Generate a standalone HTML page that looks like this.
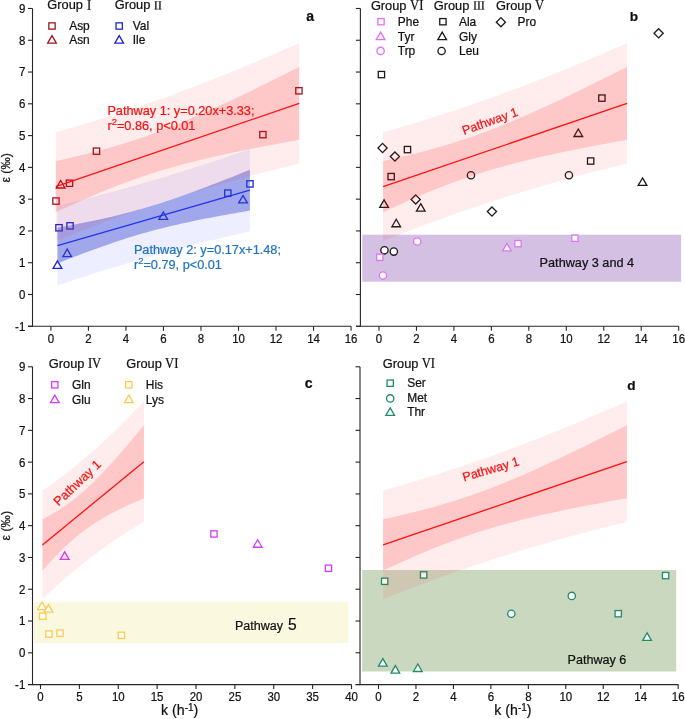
<!DOCTYPE html><html><head><meta charset="utf-8"><style>html,body{margin:0;padding:0;background:#fff;}svg{display:block;will-change:transform;}text{font-family:"Liberation Sans", sans-serif;stroke-width:0.22px;}</style></head><body>
<svg width="685" height="719" viewBox="0 0 685 719">
<rect width="685" height="719" fill="#fff"/>
<rect x="52.82" y="197.92" width="6.30" height="6.30" fill="#fff" stroke="#a0141e" stroke-width="1.3"/>
<rect x="66.32" y="180.12" width="6.30" height="6.30" fill="#fff" stroke="#a0141e" stroke-width="1.3"/>
<rect x="93.34" y="148.02" width="6.30" height="6.30" fill="#fff" stroke="#a0141e" stroke-width="1.3"/>
<rect x="259.74" y="131.50" width="6.30" height="6.30" fill="#fff" stroke="#a0141e" stroke-width="1.3"/>
<rect x="295.76" y="87.64" width="6.30" height="6.30" fill="#fff" stroke="#a0141e" stroke-width="1.3"/>
<path d="M60.66 180.49 L65.01 187.99 L56.31 187.99 Z" fill="#fff" stroke="#a0141e" stroke-width="1.3" stroke-linejoin="miter"/>
<rect x="55.82" y="224.61" width="6.30" height="6.30" fill="#fff" stroke="#1c24d0" stroke-width="1.3"/>
<rect x="66.89" y="222.71" width="6.30" height="6.30" fill="#fff" stroke="#1c24d0" stroke-width="1.3"/>
<rect x="224.66" y="189.97" width="6.30" height="6.30" fill="#fff" stroke="#1c24d0" stroke-width="1.3"/>
<rect x="246.79" y="180.76" width="6.30" height="6.30" fill="#fff" stroke="#1c24d0" stroke-width="1.3"/>
<path d="M57.47 260.89 L61.82 268.39 L53.12 268.39 Z" fill="#fff" stroke="#1c24d0" stroke-width="1.3" stroke-linejoin="miter"/>
<path d="M67.22 249.14 L71.57 256.64 L62.87 256.64 Z" fill="#fff" stroke="#1c24d0" stroke-width="1.3" stroke-linejoin="miter"/>
<path d="M163.27 211.95 L167.62 219.45 L158.92 219.45 Z" fill="#fff" stroke="#1c24d0" stroke-width="1.3" stroke-linejoin="miter"/>
<path d="M243.00 195.43 L247.35 202.93 L238.65 202.93 Z" fill="#fff" stroke="#1c24d0" stroke-width="1.3" stroke-linejoin="miter"/>
<path d="M57.45 205.75 L62.38 204.57 L67.32 203.37 L72.25 202.16 L77.19 200.94 L82.12 199.70 L87.06 198.45 L91.99 197.18 L96.93 195.90 L101.86 194.61 L106.80 193.30 L111.73 191.98 L116.67 190.64 L121.60 189.29 L126.53 187.92 L131.47 186.54 L136.40 185.15 L141.34 183.74 L146.27 182.31 L151.21 180.87 L156.14 179.41 L161.08 177.94 L166.01 176.46 L170.95 174.96 L175.88 173.44 L180.82 171.91 L185.75 170.37 L190.68 168.81 L195.62 167.23 L200.55 165.65 L205.49 164.05 L210.42 162.43 L215.36 160.81 L220.29 159.16 L225.23 157.51 L230.16 155.84 L235.10 154.16 L240.03 152.47 L244.97 150.77 L249.90 149.06 L249.90 231.23 L244.97 232.36 L240.03 233.50 L235.10 234.65 L230.16 235.81 L225.23 236.99 L220.29 238.18 L215.36 239.38 L210.42 240.60 L205.49 241.82 L200.55 243.07 L195.62 244.32 L190.68 245.59 L185.75 246.88 L180.82 248.17 L175.88 249.49 L170.95 250.81 L166.01 252.16 L161.08 253.51 L156.14 254.88 L151.21 256.27 L146.27 257.67 L141.34 259.09 L136.40 260.52 L131.47 261.97 L126.53 263.43 L121.60 264.90 L116.67 266.40 L111.73 267.90 L106.80 269.42 L101.86 270.96 L96.93 272.51 L91.99 274.07 L87.06 275.65 L82.12 277.24 L77.19 278.84 L72.25 280.46 L67.32 282.09 L62.38 283.74 L57.45 285.40 Z" fill="rgba(20,40,255,0.08)"/><path d="M57.45 227.74 L62.38 226.85 L67.32 225.94 L72.25 225.00 L77.19 224.05 L82.12 223.08 L87.06 222.09 L91.99 221.07 L96.93 220.02 L101.86 218.94 L106.80 217.83 L111.73 216.68 L116.67 215.50 L121.60 214.28 L126.53 213.02 L131.47 211.71 L136.40 210.36 L141.34 208.97 L146.27 207.54 L151.21 206.06 L156.14 204.53 L161.08 202.97 L166.01 201.36 L170.95 199.71 L175.88 198.03 L180.82 196.31 L185.75 194.55 L190.68 192.77 L195.62 190.96 L200.55 189.12 L205.49 187.26 L210.42 185.37 L215.36 183.47 L220.29 181.54 L225.23 179.60 L230.16 177.65 L235.10 175.67 L240.03 173.69 L244.97 171.70 L249.90 169.69 L249.90 210.60 L244.97 211.44 L240.03 212.28 L235.10 213.14 L230.16 214.01 L225.23 214.90 L220.29 215.80 L215.36 216.72 L210.42 217.66 L205.49 218.61 L200.55 219.59 L195.62 220.60 L190.68 221.63 L185.75 222.69 L180.82 223.78 L175.88 224.90 L170.95 226.06 L166.01 227.25 L161.08 228.49 L156.14 229.76 L151.21 231.08 L146.27 232.45 L141.34 233.85 L136.40 235.30 L131.47 236.80 L126.53 238.34 L121.60 239.92 L116.67 241.54 L111.73 243.20 L106.80 244.90 L101.86 246.63 L96.93 248.39 L91.99 250.19 L87.06 252.01 L82.12 253.85 L77.19 255.72 L72.25 257.62 L67.32 259.53 L62.38 261.46 L57.45 263.41 Z" fill="rgba(55,71,207,0.42)"/>
<path d="M55.80 132.29 L62.04 130.51 L68.28 128.70 L74.52 126.88 L80.76 125.02 L87.01 123.14 L93.25 121.23 L99.49 119.29 L105.73 117.33 L111.97 115.34 L118.21 113.32 L124.45 111.28 L130.69 109.20 L136.93 107.10 L143.17 104.97 L149.42 102.81 L155.66 100.62 L161.90 98.40 L168.14 96.16 L174.38 93.88 L180.62 91.58 L186.86 89.25 L193.10 86.90 L199.34 84.52 L205.58 82.11 L211.83 79.67 L218.07 77.21 L224.31 74.73 L230.55 72.22 L236.79 69.68 L243.03 67.13 L249.27 64.54 L255.51 61.94 L261.75 59.31 L267.99 56.67 L274.24 54.00 L280.48 51.31 L286.72 48.60 L292.96 45.88 L299.20 43.13 L299.20 163.62 L292.96 165.14 L286.72 166.69 L280.48 168.25 L274.24 169.83 L267.99 171.43 L261.75 173.05 L255.51 174.70 L249.27 176.36 L243.03 178.05 L236.79 179.76 L230.55 181.50 L224.31 183.26 L218.07 185.04 L211.83 186.85 L205.58 188.68 L199.34 190.54 L193.10 192.43 L186.86 194.35 L180.62 196.29 L174.38 198.26 L168.14 200.25 L161.90 202.28 L155.66 204.33 L149.42 206.41 L143.17 208.52 L136.93 210.66 L130.69 212.82 L124.45 215.02 L118.21 217.24 L111.97 219.49 L105.73 221.77 L99.49 224.08 L93.25 226.41 L87.01 228.77 L80.76 231.16 L74.52 233.57 L68.28 236.01 L62.04 238.48 L55.80 240.97 Z" fill="rgba(255,0,0,0.075)"/><path d="M55.80 161.03 L62.04 159.66 L68.28 158.25 L74.52 156.80 L80.76 155.31 L87.01 153.77 L93.25 152.18 L99.49 150.54 L105.73 148.83 L111.97 147.07 L118.21 145.23 L124.45 143.32 L130.69 141.35 L136.93 139.30 L143.17 137.17 L149.42 134.97 L155.66 132.69 L161.90 130.34 L168.14 127.92 L174.38 125.44 L180.62 122.89 L186.86 120.27 L193.10 117.61 L199.34 114.89 L205.58 112.12 L211.83 109.30 L218.07 106.45 L224.31 103.56 L230.55 100.63 L236.79 97.67 L243.03 94.69 L249.27 91.67 L255.51 88.64 L261.75 85.58 L267.99 82.50 L274.24 79.41 L280.48 76.30 L286.72 73.17 L292.96 70.03 L299.20 66.88 L299.20 139.87 L292.96 140.99 L286.72 142.12 L280.48 143.26 L274.24 144.42 L267.99 145.59 L261.75 146.79 L255.51 148.00 L249.27 149.23 L243.03 150.49 L236.79 151.77 L230.55 153.08 L224.31 154.43 L218.07 155.80 L211.83 157.22 L205.58 158.67 L199.34 160.18 L193.10 161.72 L186.86 163.33 L180.62 164.98 L174.38 166.70 L168.14 168.49 L161.90 170.34 L155.66 172.26 L149.42 174.25 L143.17 176.32 L136.93 178.46 L130.69 180.68 L124.45 182.97 L118.21 185.33 L111.97 187.77 L105.73 190.27 L99.49 192.83 L93.25 195.46 L87.01 198.14 L80.76 200.87 L74.52 203.65 L68.28 206.47 L62.04 209.33 L55.80 212.23 Z" fill="rgba(255,0,0,0.153)"/>
<line x1="55.80" y1="186.63" x2="299.20" y2="103.38" stroke="#ff1010" stroke-width="1.3"/>
<line x1="57.45" y1="245.57" x2="249.90" y2="190.14" stroke="#2233ee" stroke-width="1.3"/>
<path d="M32.50 8.50 L32.50 326.30 L351.00 326.30" fill="none" stroke="#262626" stroke-width="1.1"/>
<line x1="28.00" y1="326.30" x2="32.50" y2="326.30" stroke="#262626" stroke-width="1.1"/>
<line x1="28.00" y1="326.28" x2="32.50" y2="326.28" stroke="#262626" stroke-width="1.1"/>
<text x="0" y="0" text-anchor="end" font-size="12.2" fill="#111" stroke="#111" transform="translate(25.30 330.68) scale(0.94 1)">-1</text>
<line x1="28.00" y1="294.50" x2="32.50" y2="294.50" stroke="#262626" stroke-width="1.1"/>
<text x="0" y="0" text-anchor="end" font-size="12.2" fill="#111" stroke="#111" transform="translate(25.30 298.90) scale(0.94 1)">0</text>
<line x1="28.00" y1="262.72" x2="32.50" y2="262.72" stroke="#262626" stroke-width="1.1"/>
<text x="0" y="0" text-anchor="end" font-size="12.2" fill="#111" stroke="#111" transform="translate(25.30 267.12) scale(0.94 1)">1</text>
<line x1="28.00" y1="230.94" x2="32.50" y2="230.94" stroke="#262626" stroke-width="1.1"/>
<text x="0" y="0" text-anchor="end" font-size="12.2" fill="#111" stroke="#111" transform="translate(25.30 235.34) scale(0.94 1)">2</text>
<line x1="28.00" y1="199.16" x2="32.50" y2="199.16" stroke="#262626" stroke-width="1.1"/>
<text x="0" y="0" text-anchor="end" font-size="12.2" fill="#111" stroke="#111" transform="translate(25.30 203.56) scale(0.94 1)">3</text>
<line x1="28.00" y1="167.38" x2="32.50" y2="167.38" stroke="#262626" stroke-width="1.1"/>
<text x="0" y="0" text-anchor="end" font-size="12.2" fill="#111" stroke="#111" transform="translate(25.30 171.78) scale(0.94 1)">4</text>
<line x1="28.00" y1="135.60" x2="32.50" y2="135.60" stroke="#262626" stroke-width="1.1"/>
<text x="0" y="0" text-anchor="end" font-size="12.2" fill="#111" stroke="#111" transform="translate(25.30 140.00) scale(0.94 1)">5</text>
<line x1="28.00" y1="103.82" x2="32.50" y2="103.82" stroke="#262626" stroke-width="1.1"/>
<text x="0" y="0" text-anchor="end" font-size="12.2" fill="#111" stroke="#111" transform="translate(25.30 108.22) scale(0.94 1)">6</text>
<line x1="28.00" y1="72.04" x2="32.50" y2="72.04" stroke="#262626" stroke-width="1.1"/>
<text x="0" y="0" text-anchor="end" font-size="12.2" fill="#111" stroke="#111" transform="translate(25.30 76.44) scale(0.94 1)">7</text>
<line x1="28.00" y1="40.26" x2="32.50" y2="40.26" stroke="#262626" stroke-width="1.1"/>
<text x="0" y="0" text-anchor="end" font-size="12.2" fill="#111" stroke="#111" transform="translate(25.30 44.66) scale(0.94 1)">8</text>
<line x1="28.00" y1="8.48" x2="32.50" y2="8.48" stroke="#262626" stroke-width="1.1"/>
<text x="0" y="0" text-anchor="end" font-size="12.2" fill="#111" stroke="#111" transform="translate(25.30 12.88) scale(0.94 1)">9</text>
<line x1="50.90" y1="326.30" x2="50.90" y2="330.80" stroke="#262626" stroke-width="1.1"/>
<text x="0" y="0" text-anchor="middle" font-size="12.2" fill="#111" stroke="#111" transform="translate(50.90 343.10) scale(0.94 1)">0</text>
<line x1="88.42" y1="326.30" x2="88.42" y2="330.80" stroke="#262626" stroke-width="1.1"/>
<text x="0" y="0" text-anchor="middle" font-size="12.2" fill="#111" stroke="#111" transform="translate(88.42 343.10) scale(0.94 1)">2</text>
<line x1="125.94" y1="326.30" x2="125.94" y2="330.80" stroke="#262626" stroke-width="1.1"/>
<text x="0" y="0" text-anchor="middle" font-size="12.2" fill="#111" stroke="#111" transform="translate(125.94 343.10) scale(0.94 1)">4</text>
<line x1="163.46" y1="326.30" x2="163.46" y2="330.80" stroke="#262626" stroke-width="1.1"/>
<text x="0" y="0" text-anchor="middle" font-size="12.2" fill="#111" stroke="#111" transform="translate(163.46 343.10) scale(0.94 1)">6</text>
<line x1="200.98" y1="326.30" x2="200.98" y2="330.80" stroke="#262626" stroke-width="1.1"/>
<text x="0" y="0" text-anchor="middle" font-size="12.2" fill="#111" stroke="#111" transform="translate(200.98 343.10) scale(0.94 1)">8</text>
<line x1="238.50" y1="326.30" x2="238.50" y2="330.80" stroke="#262626" stroke-width="1.1"/>
<text x="0" y="0" text-anchor="middle" font-size="12.2" fill="#111" stroke="#111" transform="translate(238.50 343.10) scale(0.94 1)">10</text>
<line x1="276.02" y1="326.30" x2="276.02" y2="330.80" stroke="#262626" stroke-width="1.1"/>
<text x="0" y="0" text-anchor="middle" font-size="12.2" fill="#111" stroke="#111" transform="translate(276.02 343.10) scale(0.94 1)">12</text>
<line x1="313.54" y1="326.30" x2="313.54" y2="330.80" stroke="#262626" stroke-width="1.1"/>
<text x="0" y="0" text-anchor="middle" font-size="12.2" fill="#111" stroke="#111" transform="translate(313.54 343.10) scale(0.94 1)">14</text>
<line x1="351.06" y1="326.30" x2="351.06" y2="330.80" stroke="#262626" stroke-width="1.1"/>
<text x="0" y="0" text-anchor="middle" font-size="12.2" fill="#111" stroke="#111" transform="translate(351.06 343.10) scale(0.94 1)">16</text>
<rect x="362.3" y="234.7" width="318.8" height="47" fill="#d4c0e2"/>
<rect x="378.28" y="71.43" width="6.30" height="6.30" fill="#fff" stroke="#1a1a1a" stroke-width="1.3"/>
<rect x="404.32" y="146.43" width="6.30" height="6.30" fill="#fff" stroke="#1a1a1a" stroke-width="1.3"/>
<rect x="388.02" y="173.45" width="6.30" height="6.30" fill="#fff" stroke="#1a1a1a" stroke-width="1.3"/>
<rect x="587.50" y="157.87" width="6.30" height="6.30" fill="#fff" stroke="#1a1a1a" stroke-width="1.3"/>
<rect x="598.74" y="94.95" width="6.30" height="6.30" fill="#fff" stroke="#1a1a1a" stroke-width="1.3"/>
<path d="M384.06 199.88 L388.41 207.38 L379.71 207.38 Z" fill="#fff" stroke="#1a1a1a" stroke-width="1.3" stroke-linejoin="miter"/>
<path d="M396.23 219.26 L400.58 226.76 L391.88 226.76 Z" fill="#fff" stroke="#1a1a1a" stroke-width="1.3" stroke-linejoin="miter"/>
<path d="M420.77 203.69 L425.12 211.19 L416.42 211.19 Z" fill="#fff" stroke="#1a1a1a" stroke-width="1.3" stroke-linejoin="miter"/>
<path d="M578.29 129.01 L582.64 136.51 L573.94 136.51 Z" fill="#fff" stroke="#1a1a1a" stroke-width="1.3" stroke-linejoin="miter"/>
<path d="M642.53 177.95 L646.88 185.45 L638.18 185.45 Z" fill="#fff" stroke="#1a1a1a" stroke-width="1.3" stroke-linejoin="miter"/>
<circle cx="384.43" cy="250.33" r="3.65" fill="#fff" stroke="#1a1a1a" stroke-width="1.3"/>
<circle cx="393.80" cy="251.60" r="3.65" fill="#fff" stroke="#1a1a1a" stroke-width="1.3"/>
<circle cx="470.96" cy="175.32" r="3.65" fill="#fff" stroke="#1a1a1a" stroke-width="1.3"/>
<circle cx="568.92" cy="175.32" r="3.65" fill="#fff" stroke="#1a1a1a" stroke-width="1.3"/>
<path d="M658.64 28.67 L663.24 33.27 L658.64 37.87 L654.04 33.27 Z" fill="#fff" stroke="#1a1a1a" stroke-width="1.3"/>
<path d="M382.56 143.39 L387.16 147.99 L382.56 152.59 L377.96 147.99 Z" fill="#fff" stroke="#1a1a1a" stroke-width="1.3"/>
<path d="M394.92 151.97 L399.52 156.57 L394.92 161.17 L390.32 156.57 Z" fill="#fff" stroke="#1a1a1a" stroke-width="1.3"/>
<path d="M415.71 194.88 L420.31 199.48 L415.71 204.08 L411.11 199.48 Z" fill="#fff" stroke="#1a1a1a" stroke-width="1.3"/>
<path d="M491.94 206.95 L496.54 211.55 L491.94 216.15 L487.34 211.55 Z" fill="#fff" stroke="#1a1a1a" stroke-width="1.3"/>
<rect x="376.60" y="254.17" width="6.30" height="6.30" fill="#fff" stroke="#e070fc" stroke-width="1.3"/>
<rect x="514.83" y="240.50" width="6.30" height="6.30" fill="#fff" stroke="#e070fc" stroke-width="1.3"/>
<rect x="571.77" y="235.10" width="6.30" height="6.30" fill="#fff" stroke="#e070fc" stroke-width="1.3"/>
<path d="M506.93 243.42 L511.28 250.92 L502.58 250.92 Z" fill="#fff" stroke="#e070fc" stroke-width="1.3" stroke-linejoin="miter"/>
<circle cx="382.93" cy="275.43" r="3.65" fill="#fff" stroke="#e070fc" stroke-width="1.3"/>
<circle cx="417.21" cy="241.43" r="3.65" fill="#fff" stroke="#e070fc" stroke-width="1.3"/>
<path d="M383.10 132.29 L389.35 130.51 L395.61 128.70 L401.86 126.88 L408.12 125.02 L414.37 123.14 L420.62 121.23 L426.88 119.29 L433.13 117.33 L439.38 115.34 L445.64 113.32 L451.89 111.28 L458.15 109.20 L464.40 107.10 L470.65 104.97 L476.91 102.81 L483.16 100.62 L489.42 98.40 L495.67 96.16 L501.92 93.88 L508.18 91.58 L514.43 89.25 L520.68 86.90 L526.94 84.52 L533.19 82.11 L539.45 79.67 L545.70 77.21 L551.95 74.73 L558.21 72.22 L564.46 69.68 L570.72 67.13 L576.97 64.54 L583.22 61.94 L589.48 59.31 L595.73 56.67 L601.98 54.00 L608.24 51.31 L614.49 48.60 L620.75 45.88 L627.00 43.13 L627.00 163.62 L620.75 165.14 L614.49 166.69 L608.24 168.25 L601.98 169.83 L595.73 171.43 L589.48 173.05 L583.22 174.70 L576.97 176.36 L570.72 178.05 L564.46 179.76 L558.21 181.50 L551.95 183.26 L545.70 185.04 L539.45 186.85 L533.19 188.68 L526.94 190.54 L520.68 192.43 L514.43 194.35 L508.18 196.29 L501.92 198.26 L495.67 200.25 L489.42 202.28 L483.16 204.33 L476.91 206.41 L470.65 208.52 L464.40 210.66 L458.15 212.82 L451.89 215.02 L445.64 217.24 L439.38 219.49 L433.13 221.77 L426.88 224.08 L420.62 226.41 L414.37 228.77 L408.12 231.16 L401.86 233.57 L395.61 236.01 L389.35 238.48 L383.10 240.97 Z" fill="rgba(255,0,0,0.075)"/><path d="M383.10 161.03 L389.35 159.66 L395.61 158.25 L401.86 156.80 L408.12 155.31 L414.37 153.77 L420.62 152.18 L426.88 150.54 L433.13 148.83 L439.38 147.07 L445.64 145.23 L451.89 143.32 L458.15 141.35 L464.40 139.30 L470.65 137.17 L476.91 134.97 L483.16 132.69 L489.42 130.34 L495.67 127.92 L501.92 125.44 L508.18 122.89 L514.43 120.27 L520.68 117.61 L526.94 114.89 L533.19 112.12 L539.45 109.30 L545.70 106.45 L551.95 103.56 L558.21 100.63 L564.46 97.67 L570.72 94.69 L576.97 91.67 L583.22 88.64 L589.48 85.58 L595.73 82.50 L601.98 79.41 L608.24 76.30 L614.49 73.17 L620.75 70.03 L627.00 66.88 L627.00 139.87 L620.75 140.99 L614.49 142.12 L608.24 143.26 L601.98 144.42 L595.73 145.59 L589.48 146.79 L583.22 148.00 L576.97 149.23 L570.72 150.49 L564.46 151.77 L558.21 153.08 L551.95 154.43 L545.70 155.80 L539.45 157.22 L533.19 158.67 L526.94 160.18 L520.68 161.72 L514.43 163.33 L508.18 164.98 L501.92 166.70 L495.67 168.49 L489.42 170.34 L483.16 172.26 L476.91 174.25 L470.65 176.32 L464.40 178.46 L458.15 180.68 L451.89 182.97 L445.64 185.33 L439.38 187.77 L433.13 190.27 L426.88 192.83 L420.62 195.46 L414.37 198.14 L408.12 200.87 L401.86 203.65 L395.61 206.47 L389.35 209.33 L383.10 212.23 Z" fill="rgba(255,0,0,0.153)"/>
<line x1="383.10" y1="186.63" x2="627.00" y2="103.38" stroke="#ff1010" stroke-width="1.3"/>
<path d="M360.40 8.50 L360.40 326.30 L678.70 326.30" fill="none" stroke="#262626" stroke-width="1.1"/>
<line x1="356.00" y1="326.30" x2="360.40" y2="326.30" stroke="#262626" stroke-width="1.1"/>
<line x1="355.90" y1="326.28" x2="360.40" y2="326.28" stroke="#262626" stroke-width="1.1"/>
<line x1="355.90" y1="294.50" x2="360.40" y2="294.50" stroke="#262626" stroke-width="1.1"/>
<line x1="355.90" y1="262.72" x2="360.40" y2="262.72" stroke="#262626" stroke-width="1.1"/>
<line x1="355.90" y1="230.94" x2="360.40" y2="230.94" stroke="#262626" stroke-width="1.1"/>
<line x1="355.90" y1="199.16" x2="360.40" y2="199.16" stroke="#262626" stroke-width="1.1"/>
<line x1="355.90" y1="167.38" x2="360.40" y2="167.38" stroke="#262626" stroke-width="1.1"/>
<line x1="355.90" y1="135.60" x2="360.40" y2="135.60" stroke="#262626" stroke-width="1.1"/>
<line x1="355.90" y1="103.82" x2="360.40" y2="103.82" stroke="#262626" stroke-width="1.1"/>
<line x1="355.90" y1="72.04" x2="360.40" y2="72.04" stroke="#262626" stroke-width="1.1"/>
<line x1="355.90" y1="40.26" x2="360.40" y2="40.26" stroke="#262626" stroke-width="1.1"/>
<line x1="355.90" y1="8.48" x2="360.40" y2="8.48" stroke="#262626" stroke-width="1.1"/>
<line x1="379.00" y1="326.30" x2="379.00" y2="330.80" stroke="#262626" stroke-width="1.1"/>
<text x="0" y="0" text-anchor="middle" font-size="12.2" fill="#111" stroke="#111" transform="translate(379.00 343.10) scale(0.94 1)">0</text>
<line x1="416.46" y1="326.30" x2="416.46" y2="330.80" stroke="#262626" stroke-width="1.1"/>
<text x="0" y="0" text-anchor="middle" font-size="12.2" fill="#111" stroke="#111" transform="translate(416.46 343.10) scale(0.94 1)">2</text>
<line x1="453.92" y1="326.30" x2="453.92" y2="330.80" stroke="#262626" stroke-width="1.1"/>
<text x="0" y="0" text-anchor="middle" font-size="12.2" fill="#111" stroke="#111" transform="translate(453.92 343.10) scale(0.94 1)">4</text>
<line x1="491.38" y1="326.30" x2="491.38" y2="330.80" stroke="#262626" stroke-width="1.1"/>
<text x="0" y="0" text-anchor="middle" font-size="12.2" fill="#111" stroke="#111" transform="translate(491.38 343.10) scale(0.94 1)">6</text>
<line x1="528.84" y1="326.30" x2="528.84" y2="330.80" stroke="#262626" stroke-width="1.1"/>
<text x="0" y="0" text-anchor="middle" font-size="12.2" fill="#111" stroke="#111" transform="translate(528.84 343.10) scale(0.94 1)">8</text>
<line x1="566.30" y1="326.30" x2="566.30" y2="330.80" stroke="#262626" stroke-width="1.1"/>
<text x="0" y="0" text-anchor="middle" font-size="12.2" fill="#111" stroke="#111" transform="translate(566.30 343.10) scale(0.94 1)">10</text>
<line x1="603.76" y1="326.30" x2="603.76" y2="330.80" stroke="#262626" stroke-width="1.1"/>
<text x="0" y="0" text-anchor="middle" font-size="12.2" fill="#111" stroke="#111" transform="translate(603.76 343.10) scale(0.94 1)">12</text>
<line x1="641.22" y1="326.30" x2="641.22" y2="330.80" stroke="#262626" stroke-width="1.1"/>
<text x="0" y="0" text-anchor="middle" font-size="12.2" fill="#111" stroke="#111" transform="translate(641.22 343.10) scale(0.94 1)">14</text>
<line x1="678.68" y1="326.30" x2="678.68" y2="330.80" stroke="#262626" stroke-width="1.1"/>
<text x="0" y="0" text-anchor="middle" font-size="12.2" fill="#111" stroke="#111" transform="translate(678.68 343.10) scale(0.94 1)">16</text>
<rect x="34" y="602" width="314.2" height="41" fill="#faf8df"/>
<rect x="39.53" y="613.10" width="6.30" height="6.30" fill="#fff" stroke="#ffc94a" stroke-width="1.3"/>
<rect x="45.82" y="630.90" width="6.30" height="6.30" fill="#fff" stroke="#ffc94a" stroke-width="1.3"/>
<rect x="56.87" y="629.95" width="6.30" height="6.30" fill="#fff" stroke="#ffc94a" stroke-width="1.3"/>
<rect x="118.21" y="632.17" width="6.30" height="6.30" fill="#fff" stroke="#ffc94a" stroke-width="1.3"/>
<path d="M41.98 602.03 L46.33 609.53 L37.63 609.53 Z" fill="#fff" stroke="#ffc94a" stroke-width="1.3" stroke-linejoin="miter"/>
<path d="M48.43 604.58 L52.78 612.08 L44.08 612.08 Z" fill="#fff" stroke="#ffc94a" stroke-width="1.3" stroke-linejoin="miter"/>
<rect x="210.81" y="530.79" width="6.30" height="6.30" fill="#fff" stroke="#d43cfa" stroke-width="1.3"/>
<rect x="325.34" y="565.12" width="6.30" height="6.30" fill="#fff" stroke="#d43cfa" stroke-width="1.3"/>
<path d="M64.68 551.82 L69.03 559.32 L60.33 559.32 Z" fill="#fff" stroke="#d43cfa" stroke-width="1.3" stroke-linejoin="miter"/>
<path d="M257.66 539.74 L262.01 547.24 L253.31 547.24 Z" fill="#fff" stroke="#d43cfa" stroke-width="1.3" stroke-linejoin="miter"/>
<path d="M42.45 490.59 L45.05 488.81 L47.66 487.00 L50.26 485.18 L52.86 483.32 L55.46 481.44 L58.07 479.53 L60.67 477.59 L63.27 475.63 L65.87 473.64 L68.48 471.62 L71.08 469.58 L73.68 467.50 L76.28 465.40 L78.89 463.27 L81.49 461.11 L84.09 458.92 L86.69 456.70 L89.30 454.46 L91.90 452.18 L94.50 449.88 L97.10 447.55 L99.71 445.20 L102.31 442.82 L104.91 440.41 L107.51 437.97 L110.12 435.51 L112.72 433.03 L115.32 430.52 L117.92 427.98 L120.53 425.43 L123.13 422.84 L125.73 420.24 L128.33 417.61 L130.94 414.97 L133.54 412.30 L136.14 409.61 L138.74 406.90 L141.35 404.18 L143.95 401.43 L143.95 521.92 L141.35 523.44 L138.74 524.99 L136.14 526.55 L133.54 528.13 L130.94 529.73 L128.33 531.35 L125.73 533.00 L123.13 534.66 L120.53 536.35 L117.92 538.06 L115.32 539.80 L112.72 541.56 L110.12 543.34 L107.51 545.15 L104.91 546.98 L102.31 548.84 L99.71 550.73 L97.10 552.65 L94.50 554.59 L91.90 556.56 L89.30 558.55 L86.69 560.58 L84.09 562.63 L81.49 564.71 L78.89 566.82 L76.28 568.96 L73.68 571.12 L71.08 573.32 L68.48 575.54 L65.87 577.79 L63.27 580.07 L60.67 582.38 L58.07 584.71 L55.46 587.07 L52.86 589.46 L50.26 591.87 L47.66 594.31 L45.05 596.78 L42.45 599.27 Z" fill="rgba(255,0,0,0.075)"/><path d="M42.45 519.33 L45.05 517.96 L47.66 516.55 L50.26 515.10 L52.86 513.61 L55.46 512.07 L58.07 510.48 L60.67 508.84 L63.27 507.13 L65.87 505.37 L68.48 503.53 L71.08 501.62 L73.68 499.65 L76.28 497.60 L78.89 495.47 L81.49 493.27 L84.09 490.99 L86.69 488.64 L89.30 486.22 L91.90 483.74 L94.50 481.19 L97.10 478.57 L99.71 475.91 L102.31 473.19 L104.91 470.42 L107.51 467.60 L110.12 464.75 L112.72 461.86 L115.32 458.93 L117.92 455.97 L120.53 452.99 L123.13 449.97 L125.73 446.94 L128.33 443.88 L130.94 440.80 L133.54 437.71 L136.14 434.60 L138.74 431.47 L141.35 428.33 L143.95 425.18 L143.95 498.17 L141.35 499.29 L138.74 500.42 L136.14 501.56 L133.54 502.72 L130.94 503.89 L128.33 505.09 L125.73 506.30 L123.13 507.53 L120.53 508.79 L117.92 510.07 L115.32 511.38 L112.72 512.73 L110.12 514.10 L107.51 515.52 L104.91 516.97 L102.31 518.48 L99.71 520.02 L97.10 521.63 L94.50 523.28 L91.90 525.00 L89.30 526.79 L86.69 528.64 L84.09 530.56 L81.49 532.55 L78.89 534.62 L76.28 536.76 L73.68 538.98 L71.08 541.27 L68.48 543.63 L65.87 546.07 L63.27 548.57 L60.67 551.13 L58.07 553.76 L55.46 556.44 L52.86 559.17 L50.26 561.95 L47.66 564.77 L45.05 567.63 L42.45 570.53 Z" fill="rgba(255,0,0,0.153)"/>
<line x1="42.45" y1="544.93" x2="143.95" y2="461.68" stroke="#ff1010" stroke-width="1.3"/>
<path d="M32.50 366.70 L32.50 684.60 L351.50 684.60" fill="none" stroke="#262626" stroke-width="1.1"/>
<line x1="28.00" y1="684.60" x2="32.50" y2="684.60" stroke="#262626" stroke-width="1.1"/>
<line x1="28.00" y1="684.58" x2="32.50" y2="684.58" stroke="#262626" stroke-width="1.1"/>
<text x="0" y="0" text-anchor="end" font-size="12.2" fill="#111" stroke="#111" transform="translate(25.30 688.98) scale(0.94 1)">-1</text>
<line x1="28.00" y1="652.80" x2="32.50" y2="652.80" stroke="#262626" stroke-width="1.1"/>
<text x="0" y="0" text-anchor="end" font-size="12.2" fill="#111" stroke="#111" transform="translate(25.30 657.20) scale(0.94 1)">0</text>
<line x1="28.00" y1="621.02" x2="32.50" y2="621.02" stroke="#262626" stroke-width="1.1"/>
<text x="0" y="0" text-anchor="end" font-size="12.2" fill="#111" stroke="#111" transform="translate(25.30 625.42) scale(0.94 1)">1</text>
<line x1="28.00" y1="589.24" x2="32.50" y2="589.24" stroke="#262626" stroke-width="1.1"/>
<text x="0" y="0" text-anchor="end" font-size="12.2" fill="#111" stroke="#111" transform="translate(25.30 593.64) scale(0.94 1)">2</text>
<line x1="28.00" y1="557.46" x2="32.50" y2="557.46" stroke="#262626" stroke-width="1.1"/>
<text x="0" y="0" text-anchor="end" font-size="12.2" fill="#111" stroke="#111" transform="translate(25.30 561.86) scale(0.94 1)">3</text>
<line x1="28.00" y1="525.68" x2="32.50" y2="525.68" stroke="#262626" stroke-width="1.1"/>
<text x="0" y="0" text-anchor="end" font-size="12.2" fill="#111" stroke="#111" transform="translate(25.30 530.08) scale(0.94 1)">4</text>
<line x1="28.00" y1="493.90" x2="32.50" y2="493.90" stroke="#262626" stroke-width="1.1"/>
<text x="0" y="0" text-anchor="end" font-size="12.2" fill="#111" stroke="#111" transform="translate(25.30 498.30) scale(0.94 1)">5</text>
<line x1="28.00" y1="462.12" x2="32.50" y2="462.12" stroke="#262626" stroke-width="1.1"/>
<text x="0" y="0" text-anchor="end" font-size="12.2" fill="#111" stroke="#111" transform="translate(25.30 466.52) scale(0.94 1)">6</text>
<line x1="28.00" y1="430.34" x2="32.50" y2="430.34" stroke="#262626" stroke-width="1.1"/>
<text x="0" y="0" text-anchor="end" font-size="12.2" fill="#111" stroke="#111" transform="translate(25.30 434.74) scale(0.94 1)">7</text>
<line x1="28.00" y1="398.56" x2="32.50" y2="398.56" stroke="#262626" stroke-width="1.1"/>
<text x="0" y="0" text-anchor="end" font-size="12.2" fill="#111" stroke="#111" transform="translate(25.30 402.96) scale(0.94 1)">8</text>
<line x1="28.00" y1="366.78" x2="32.50" y2="366.78" stroke="#262626" stroke-width="1.1"/>
<text x="0" y="0" text-anchor="end" font-size="12.2" fill="#111" stroke="#111" transform="translate(25.30 371.18) scale(0.94 1)">9</text>
<line x1="40.50" y1="684.60" x2="40.50" y2="689.10" stroke="#262626" stroke-width="1.1"/>
<text x="0" y="0" text-anchor="middle" font-size="12.2" fill="#111" stroke="#111" transform="translate(40.50 701.40) scale(0.94 1)">0</text>
<line x1="79.38" y1="684.60" x2="79.38" y2="689.10" stroke="#262626" stroke-width="1.1"/>
<text x="0" y="0" text-anchor="middle" font-size="12.2" fill="#111" stroke="#111" transform="translate(79.38 701.40) scale(0.94 1)">5</text>
<line x1="118.25" y1="684.60" x2="118.25" y2="689.10" stroke="#262626" stroke-width="1.1"/>
<text x="0" y="0" text-anchor="middle" font-size="12.2" fill="#111" stroke="#111" transform="translate(118.25 701.40) scale(0.94 1)">10</text>
<line x1="157.12" y1="684.60" x2="157.12" y2="689.10" stroke="#262626" stroke-width="1.1"/>
<text x="0" y="0" text-anchor="middle" font-size="12.2" fill="#111" stroke="#111" transform="translate(157.12 701.40) scale(0.94 1)">15</text>
<line x1="196.00" y1="684.60" x2="196.00" y2="689.10" stroke="#262626" stroke-width="1.1"/>
<text x="0" y="0" text-anchor="middle" font-size="12.2" fill="#111" stroke="#111" transform="translate(196.00 701.40) scale(0.94 1)">20</text>
<line x1="234.88" y1="684.60" x2="234.88" y2="689.10" stroke="#262626" stroke-width="1.1"/>
<text x="0" y="0" text-anchor="middle" font-size="12.2" fill="#111" stroke="#111" transform="translate(234.88 701.40) scale(0.94 1)">25</text>
<line x1="273.75" y1="684.60" x2="273.75" y2="689.10" stroke="#262626" stroke-width="1.1"/>
<text x="0" y="0" text-anchor="middle" font-size="12.2" fill="#111" stroke="#111" transform="translate(273.75 701.40) scale(0.94 1)">30</text>
<line x1="312.62" y1="684.60" x2="312.62" y2="689.10" stroke="#262626" stroke-width="1.1"/>
<text x="0" y="0" text-anchor="middle" font-size="12.2" fill="#111" stroke="#111" transform="translate(312.62 701.40) scale(0.94 1)">35</text>
<line x1="351.50" y1="684.60" x2="351.50" y2="689.10" stroke="#262626" stroke-width="1.1"/>
<text x="0" y="0" text-anchor="middle" font-size="12.2" fill="#111" stroke="#111" transform="translate(351.50 701.40) scale(0.94 1)">40</text>
<rect x="362.2" y="570" width="314" height="101.5" fill="#cbd8c0"/>
<rect x="381.53" y="578.14" width="6.30" height="6.30" fill="#fff" stroke="#1e8c68" stroke-width="1.3"/>
<rect x="420.49" y="571.79" width="6.30" height="6.30" fill="#fff" stroke="#1e8c68" stroke-width="1.3"/>
<rect x="615.09" y="610.56" width="6.30" height="6.30" fill="#fff" stroke="#1e8c68" stroke-width="1.3"/>
<rect x="662.48" y="572.42" width="6.30" height="6.30" fill="#fff" stroke="#1e8c68" stroke-width="1.3"/>
<circle cx="511.30" cy="613.71" r="3.65" fill="#fff" stroke="#1e8c68" stroke-width="1.3"/>
<circle cx="571.79" cy="595.91" r="3.65" fill="#fff" stroke="#1e8c68" stroke-width="1.3"/>
<path d="M382.81 658.60 L387.16 666.10 L378.46 666.10 Z" fill="#fff" stroke="#1e8c68" stroke-width="1.3" stroke-linejoin="miter"/>
<path d="M395.36 665.59 L399.71 673.09 L391.01 673.09 Z" fill="#fff" stroke="#1e8c68" stroke-width="1.3" stroke-linejoin="miter"/>
<path d="M417.83 664.00 L422.18 671.50 L413.48 671.50 Z" fill="#fff" stroke="#1e8c68" stroke-width="1.3" stroke-linejoin="miter"/>
<path d="M647.09 632.86 L651.44 640.36 L642.74 640.36 Z" fill="#fff" stroke="#1e8c68" stroke-width="1.3" stroke-linejoin="miter"/>
<path d="M383.10 490.59 L389.35 488.81 L395.60 487.00 L401.85 485.18 L408.11 483.32 L414.36 481.44 L420.61 479.53 L426.86 477.59 L433.11 475.63 L439.36 473.64 L445.61 471.62 L451.86 469.58 L458.12 467.50 L464.37 465.40 L470.62 463.27 L476.87 461.11 L483.12 458.92 L489.37 456.70 L495.62 454.46 L501.87 452.18 L508.13 449.88 L514.38 447.55 L520.63 445.20 L526.88 442.82 L533.13 440.41 L539.38 437.97 L545.63 435.51 L551.88 433.03 L558.14 430.52 L564.39 427.98 L570.64 425.43 L576.89 422.84 L583.14 420.24 L589.39 417.61 L595.64 414.97 L601.89 412.30 L608.15 409.61 L614.40 406.90 L620.65 404.18 L626.90 401.43 L626.90 521.92 L620.65 523.44 L614.40 524.99 L608.15 526.55 L601.89 528.13 L595.64 529.73 L589.39 531.35 L583.14 533.00 L576.89 534.66 L570.64 536.35 L564.39 538.06 L558.14 539.80 L551.88 541.56 L545.63 543.34 L539.38 545.15 L533.13 546.98 L526.88 548.84 L520.63 550.73 L514.38 552.65 L508.13 554.59 L501.87 556.56 L495.62 558.55 L489.37 560.58 L483.12 562.63 L476.87 564.71 L470.62 566.82 L464.37 568.96 L458.12 571.12 L451.86 573.32 L445.61 575.54 L439.36 577.79 L433.11 580.07 L426.86 582.38 L420.61 584.71 L414.36 587.07 L408.11 589.46 L401.85 591.87 L395.60 594.31 L389.35 596.78 L383.10 599.27 Z" fill="rgba(255,0,0,0.075)"/><path d="M383.10 519.33 L389.35 517.96 L395.60 516.55 L401.85 515.10 L408.11 513.61 L414.36 512.07 L420.61 510.48 L426.86 508.84 L433.11 507.13 L439.36 505.37 L445.61 503.53 L451.86 501.62 L458.12 499.65 L464.37 497.60 L470.62 495.47 L476.87 493.27 L483.12 490.99 L489.37 488.64 L495.62 486.22 L501.87 483.74 L508.13 481.19 L514.38 478.57 L520.63 475.91 L526.88 473.19 L533.13 470.42 L539.38 467.60 L545.63 464.75 L551.88 461.86 L558.14 458.93 L564.39 455.97 L570.64 452.99 L576.89 449.97 L583.14 446.94 L589.39 443.88 L595.64 440.80 L601.89 437.71 L608.15 434.60 L614.40 431.47 L620.65 428.33 L626.90 425.18 L626.90 498.17 L620.65 499.29 L614.40 500.42 L608.15 501.56 L601.89 502.72 L595.64 503.89 L589.39 505.09 L583.14 506.30 L576.89 507.53 L570.64 508.79 L564.39 510.07 L558.14 511.38 L551.88 512.73 L545.63 514.10 L539.38 515.52 L533.13 516.97 L526.88 518.48 L520.63 520.02 L514.38 521.63 L508.13 523.28 L501.87 525.00 L495.62 526.79 L489.37 528.64 L483.12 530.56 L476.87 532.55 L470.62 534.62 L464.37 536.76 L458.12 538.98 L451.86 541.27 L445.61 543.63 L439.36 546.07 L433.11 548.57 L426.86 551.13 L420.61 553.76 L414.36 556.44 L408.11 559.17 L401.85 561.95 L395.60 564.77 L389.35 567.63 L383.10 570.53 Z" fill="rgba(255,0,0,0.153)"/>
<line x1="383.10" y1="544.93" x2="626.90" y2="461.68" stroke="#ff1010" stroke-width="1.3"/>
<path d="M360.00 366.70 L360.00 684.60 L678.30 684.60" fill="none" stroke="#262626" stroke-width="1.1"/>
<line x1="355.70" y1="684.60" x2="360.00" y2="684.60" stroke="#262626" stroke-width="1.1"/>
<line x1="355.50" y1="684.58" x2="360.00" y2="684.58" stroke="#262626" stroke-width="1.1"/>
<line x1="355.50" y1="652.80" x2="360.00" y2="652.80" stroke="#262626" stroke-width="1.1"/>
<line x1="355.50" y1="621.02" x2="360.00" y2="621.02" stroke="#262626" stroke-width="1.1"/>
<line x1="355.50" y1="589.24" x2="360.00" y2="589.24" stroke="#262626" stroke-width="1.1"/>
<line x1="355.50" y1="557.46" x2="360.00" y2="557.46" stroke="#262626" stroke-width="1.1"/>
<line x1="355.50" y1="525.68" x2="360.00" y2="525.68" stroke="#262626" stroke-width="1.1"/>
<line x1="355.50" y1="493.90" x2="360.00" y2="493.90" stroke="#262626" stroke-width="1.1"/>
<line x1="355.50" y1="462.12" x2="360.00" y2="462.12" stroke="#262626" stroke-width="1.1"/>
<line x1="355.50" y1="430.34" x2="360.00" y2="430.34" stroke="#262626" stroke-width="1.1"/>
<line x1="355.50" y1="398.56" x2="360.00" y2="398.56" stroke="#262626" stroke-width="1.1"/>
<line x1="355.50" y1="366.78" x2="360.00" y2="366.78" stroke="#262626" stroke-width="1.1"/>
<line x1="378.50" y1="684.60" x2="378.50" y2="689.10" stroke="#262626" stroke-width="1.1"/>
<text x="0" y="0" text-anchor="middle" font-size="12.2" fill="#111" stroke="#111" transform="translate(378.50 701.40) scale(0.94 1)">0</text>
<line x1="415.96" y1="684.60" x2="415.96" y2="689.10" stroke="#262626" stroke-width="1.1"/>
<text x="0" y="0" text-anchor="middle" font-size="12.2" fill="#111" stroke="#111" transform="translate(415.96 701.40) scale(0.94 1)">2</text>
<line x1="453.42" y1="684.60" x2="453.42" y2="689.10" stroke="#262626" stroke-width="1.1"/>
<text x="0" y="0" text-anchor="middle" font-size="12.2" fill="#111" stroke="#111" transform="translate(453.42 701.40) scale(0.94 1)">4</text>
<line x1="490.88" y1="684.60" x2="490.88" y2="689.10" stroke="#262626" stroke-width="1.1"/>
<text x="0" y="0" text-anchor="middle" font-size="12.2" fill="#111" stroke="#111" transform="translate(490.88 701.40) scale(0.94 1)">6</text>
<line x1="528.34" y1="684.60" x2="528.34" y2="689.10" stroke="#262626" stroke-width="1.1"/>
<text x="0" y="0" text-anchor="middle" font-size="12.2" fill="#111" stroke="#111" transform="translate(528.34 701.40) scale(0.94 1)">8</text>
<line x1="565.80" y1="684.60" x2="565.80" y2="689.10" stroke="#262626" stroke-width="1.1"/>
<text x="0" y="0" text-anchor="middle" font-size="12.2" fill="#111" stroke="#111" transform="translate(565.80 701.40) scale(0.94 1)">10</text>
<line x1="603.26" y1="684.60" x2="603.26" y2="689.10" stroke="#262626" stroke-width="1.1"/>
<text x="0" y="0" text-anchor="middle" font-size="12.2" fill="#111" stroke="#111" transform="translate(603.26 701.40) scale(0.94 1)">12</text>
<line x1="640.72" y1="684.60" x2="640.72" y2="689.10" stroke="#262626" stroke-width="1.1"/>
<text x="0" y="0" text-anchor="middle" font-size="12.2" fill="#111" stroke="#111" transform="translate(640.72 701.40) scale(0.94 1)">14</text>
<line x1="678.18" y1="684.60" x2="678.18" y2="689.10" stroke="#262626" stroke-width="1.1"/>
<text x="0" y="0" text-anchor="middle" font-size="12.2" fill="#111" stroke="#111" transform="translate(678.18 701.40) scale(0.94 1)">16</text>
<text x="306.30" y="20.70" font-size="14" text-anchor="start" fill="#111" stroke="#111" font-weight="bold" >a</text>
<text x="629.80" y="20.90" font-size="13.6" text-anchor="start" fill="#111" stroke="#111" font-weight="bold" >b</text>
<text x="304.80" y="388.30" font-size="14" text-anchor="start" fill="#111" stroke="#111" font-weight="bold" >c</text>
<text x="627.30" y="390.00" font-size="13.6" text-anchor="start" fill="#111" stroke="#111" font-weight="bold" >d</text>
<text x="47.30" y="9.40" font-size="12.8" fill="#111" stroke="#111">Group</text><text x="0" y="0" font-size="13.6" fill="#111" stroke="#111" style="font-family:'Liberation Serif', serif" transform="translate(87.00 9.55) scale(0.93 1)">I</text>
<text x="114.70" y="9.40" font-size="12.8" fill="#111" stroke="#111">Group</text><rect x="154.35" y="1.30" width="7.15" height="0.45" fill="#333"/><rect x="154.35" y="8.80" width="7.15" height="0.6" fill="#222"/><rect x="155.20" y="1.30" width="1.30" height="8.10" fill="#111"/><rect x="159.30" y="1.30" width="1.30" height="8.10" fill="#111"/>
<rect x="48.85" y="22.85" width="6.30" height="6.30" fill="#fff" stroke="#a0141e" stroke-width="1.3"/>
<text x="69.20" y="29.90" font-size="11.95" text-anchor="start" fill="#111" stroke="#111" font-weight="normal" >Asp</text>
<path d="M52.00 35.55 L56.35 43.05 L47.65 43.05 Z" fill="#fff" stroke="#a0141e" stroke-width="1.3" stroke-linejoin="miter"/>
<text x="69.20" y="44.40" font-size="11.95" text-anchor="start" fill="#111" stroke="#111" font-weight="normal" >Asn</text>
<rect x="116.05" y="22.85" width="6.30" height="6.30" fill="#fff" stroke="#1c24d0" stroke-width="1.3"/>
<text x="132.70" y="29.90" font-size="11.95" text-anchor="start" fill="#111" stroke="#111" font-weight="normal" >Val</text>
<path d="M119.20 35.55 L123.55 43.05 L114.85 43.05 Z" fill="#fff" stroke="#1c24d0" stroke-width="1.3" stroke-linejoin="miter"/>
<text x="132.70" y="44.40" font-size="11.95" text-anchor="start" fill="#111" stroke="#111" font-weight="normal" >Ile</text>
<text x="370.90" y="9.50" font-size="12.8" fill="#111" stroke="#111">Group</text><text x="0" y="0" font-size="13.6" fill="#111" stroke="#111" style="font-family:'Liberation Serif', serif" transform="translate(410.10 9.65) scale(0.93 1)">VI</text>
<text x="433.70" y="9.50" font-size="12.8" fill="#111" stroke="#111">Group</text><rect x="473.50" y="1.40" width="11.10" height="0.45" fill="#333"/><rect x="473.50" y="8.90" width="11.10" height="0.6" fill="#222"/><rect x="474.35" y="1.40" width="1.30" height="8.10" fill="#111"/><rect x="478.30" y="1.40" width="1.30" height="8.10" fill="#111"/><rect x="482.25" y="1.40" width="1.30" height="8.10" fill="#111"/>
<text x="496.00" y="9.50" font-size="12.8" fill="#111" stroke="#111">Group</text><text x="0" y="0" font-size="13.6" fill="#111" stroke="#111" style="font-family:'Liberation Serif', serif" transform="translate(535.10 9.65) scale(0.93 1)">V</text>
<rect x="377.85" y="18.55" width="6.30" height="6.30" fill="#fff" stroke="#e070fc" stroke-width="1.3"/>
<text x="397.80" y="25.80" font-size="11.95" text-anchor="start" fill="#111" stroke="#111" font-weight="normal" >Phe</text>
<path d="M380.60 32.15 L384.95 39.65 L376.25 39.65 Z" fill="#fff" stroke="#e070fc" stroke-width="1.3" stroke-linejoin="miter"/>
<text x="397.80" y="40.60" font-size="11.95" text-anchor="start" fill="#111" stroke="#111" font-weight="normal" >Tyr</text>
<circle cx="380.60" cy="50.90" r="3.65" fill="#fff" stroke="#e070fc" stroke-width="1.3"/>
<text x="397.80" y="55.00" font-size="11.95" text-anchor="start" fill="#111" stroke="#111" font-weight="normal" >Trp</text>
<rect x="439.75" y="18.55" width="6.30" height="6.30" fill="#fff" stroke="#1a1a1a" stroke-width="1.3"/>
<text x="459.00" y="25.80" font-size="11.95" text-anchor="start" fill="#111" stroke="#111" font-weight="normal" >Ala</text>
<path d="M442.20 32.15 L446.55 39.65 L437.85 39.65 Z" fill="#fff" stroke="#1a1a1a" stroke-width="1.3" stroke-linejoin="miter"/>
<text x="459.00" y="40.60" font-size="11.95" text-anchor="start" fill="#111" stroke="#111" font-weight="normal" >Gly</text>
<circle cx="441.60" cy="51.00" r="3.65" fill="#fff" stroke="#1a1a1a" stroke-width="1.3"/>
<text x="459.00" y="55.00" font-size="11.95" text-anchor="start" fill="#111" stroke="#111" font-weight="normal" >Leu</text>
<path d="M500.90 17.60 L505.50 22.20 L500.90 26.80 L496.30 22.20 Z" fill="#fff" stroke="#1a1a1a" stroke-width="1.3"/>
<text x="517.50" y="25.80" font-size="11.95" text-anchor="start" fill="#111" stroke="#111" font-weight="normal" >Pro</text>
<text x="48.80" y="367.90" font-size="12.8" fill="#111" stroke="#111">Group</text><text x="0" y="0" font-size="13.6" fill="#111" stroke="#111" style="font-family:'Liberation Serif', serif" transform="translate(87.90 368.05) scale(0.93 1)">IV</text>
<text x="126.20" y="367.90" font-size="12.8" fill="#111" stroke="#111">Group</text><text x="0" y="0" font-size="13.6" fill="#111" stroke="#111" style="font-family:'Liberation Serif', serif" transform="translate(165.10 368.05) scale(0.93 1)">VI</text>
<rect x="51.65" y="381.65" width="6.30" height="6.30" fill="#fff" stroke="#d43cfa" stroke-width="1.3"/>
<text x="72.00" y="389.20" font-size="11.95" text-anchor="start" fill="#111" stroke="#111" font-weight="normal" >Gln</text>
<path d="M54.80 395.15 L59.15 402.65 L50.45 402.65 Z" fill="#fff" stroke="#d43cfa" stroke-width="1.3" stroke-linejoin="miter"/>
<text x="72.00" y="403.60" font-size="11.95" text-anchor="start" fill="#111" stroke="#111" font-weight="normal" >Glu</text>
<rect x="125.65" y="381.65" width="6.30" height="6.30" fill="#fff" stroke="#ffc94a" stroke-width="1.3"/>
<text x="145.80" y="389.20" font-size="11.95" text-anchor="start" fill="#111" stroke="#111" font-weight="normal" >His</text>
<path d="M128.80 395.15 L133.15 402.65 L124.45 402.65 Z" fill="#fff" stroke="#ffc94a" stroke-width="1.3" stroke-linejoin="miter"/>
<text x="145.80" y="403.60" font-size="11.95" text-anchor="start" fill="#111" stroke="#111" font-weight="normal" >Lys</text>
<text x="382.80" y="367.90" font-size="12.8" fill="#111" stroke="#111">Group</text><text x="0" y="0" font-size="13.6" fill="#111" stroke="#111" style="font-family:'Liberation Serif', serif" transform="translate(421.70 368.05) scale(0.93 1)">VI</text>
<rect x="387.05" y="380.05" width="6.30" height="6.30" fill="#fff" stroke="#1e8c68" stroke-width="1.3"/>
<text x="407.20" y="387.20" font-size="11.95" text-anchor="start" fill="#111" stroke="#111" font-weight="normal" >Ser</text>
<circle cx="390.20" cy="398.40" r="3.65" fill="#fff" stroke="#1e8c68" stroke-width="1.3"/>
<text x="407.20" y="402.10" font-size="11.95" text-anchor="start" fill="#111" stroke="#111" font-weight="normal" >Met</text>
<path d="M390.20 407.85 L394.55 415.35 L385.85 415.35 Z" fill="#fff" stroke="#1e8c68" stroke-width="1.3" stroke-linejoin="miter"/>
<text x="407.20" y="416.20" font-size="11.95" text-anchor="start" fill="#111" stroke="#111" font-weight="normal" >Thr</text>
<text x="107.40" y="114.50" font-size="12.72" text-anchor="start" fill="#fa1010" stroke="#fa1010" font-weight="normal" >Pathway 1: y=0.20x+3.33;</text>
<text x="107.4" y="129.7" font-size="12.72" fill="#fa1010" stroke="#fa1010">r<tspan font-size="9.5" dy="-4.6">2</tspan><tspan dy="4.6">=0.86, p&lt;0.01</tspan></text>
<text x="133.90" y="254.00" font-size="12.72" text-anchor="start" fill="#1f74c4" stroke="#1f74c4" font-weight="normal" >Pathway 2: y=0.17x+1.48;</text>
<text x="133.9" y="268.9" font-size="12.72" fill="#1f74c4" stroke="#1f74c4">r<tspan font-size="9.5" dy="-4.6">2</tspan><tspan dy="4.6">=0.79, p&lt;0.01</tspan></text>
<text x="463.90" y="135.00" font-size="12.5" text-anchor="start" fill="#fa1010" stroke="#fa1010" font-weight="normal" transform="rotate(-19.7 463.9 135.0)">Pathway 1</text>
<text x="58.60" y="506.60" font-size="12.8" text-anchor="start" fill="#fa1010" stroke="#fa1010" font-weight="normal" transform="rotate(-43.5 58.6 506.6)">Pathway 1</text>
<text x="463.90" y="481.40" font-size="12.5" text-anchor="start" fill="#fa1010" stroke="#fa1010" font-weight="normal" transform="rotate(-16.3 463.9 481.4)">Pathway 1</text>
<text x="539.60" y="266.60" font-size="12.7" text-anchor="start" fill="#111" stroke="#111" font-weight="normal" >Pathway 3 and 4</text>
<text x="235" y="630" font-size="12.5" fill="#111" stroke="#111">Pathway</text>
<text x="288.0" y="630" font-size="15.6" fill="#111" stroke="#111">5</text>
<text x="567.50" y="663.90" font-size="12.6" text-anchor="start" fill="#111" stroke="#111" font-weight="normal" >Pathway 6</text>
<text x="0" y="0" font-size="12.3" fill="#111" stroke="#111" text-anchor="middle" transform="translate(9.9 167.90) rotate(-90)">ε (‰)</text>
<text x="0" y="0" font-size="12.3" fill="#111" stroke="#111" text-anchor="middle" transform="translate(9.9 525.70) rotate(-90)">ε (‰)</text>
<text x="161.00" y="715.4" font-size="14.2" fill="#111" stroke="#111">k (h<tspan font-size="10" dy="-4.6">-1</tspan><tspan dy="4.6">)</tspan></text>
<text x="494.30" y="715.4" font-size="14.2" fill="#111" stroke="#111">k (h<tspan font-size="10" dy="-4.6">-1</tspan><tspan dy="4.6">)</tspan></text>
</svg></body></html>
